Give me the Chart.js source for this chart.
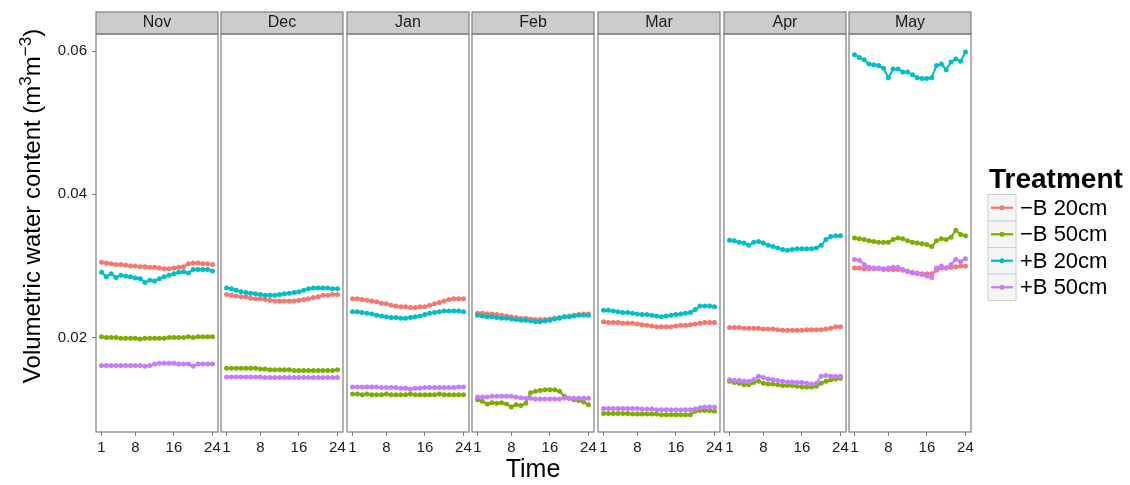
<!DOCTYPE html>
<html>
<head>
<meta charset="utf-8">
<script src="https://cdn.jsdelivr.net/npm/chart.js@4"></script>
<style>
  html, body { margin: 0; padding: 0; background: #fff; }
  #wrap { position: relative; width: 1130px; height: 485px; overflow: hidden; }
  #wrap canvas { position: absolute; top: 0; }
</style>
</head>
<body>
<div id="wrap"></div>
<script>
// facets, x values and ticks
const months = ['Nov', 'Dec', 'Jan', 'Feb', 'Mar', 'Apr', 'May'];
const hours = [1, 2, 3, 4, 5, 6, 7, 8, 9, 10, 11, 12, 13, 14, 15, 16, 17, 18, 19, 20, 21, 22, 23, 24];
const hourTicks = [1, 8, 16, 24];
const vwcTicks = [0.02, 0.04, 0.06];
const treatments = ['\u2212B 20cm', '\u2212B 50cm', '+B 20cm', '+B 50cm'];

// one row per month (Nov..May), 24 hourly readings each
const minusB20 = [
  [0.0305,0.0304,0.0303,0.0302,0.0302,0.0301,0.0300,0.0300,0.0299,0.0299,0.0298,0.0298,0.0297,0.0296,0.0296,0.0297,0.0298,0.0299,0.0303,0.0304,0.0304,0.0303,0.0303,0.0302],
  [0.0260,0.0259,0.0258,0.0257,0.0257,0.0255,0.0254,0.0254,0.0253,0.0252,0.0251,0.0251,0.0251,0.0251,0.0251,0.0252,0.0253,0.0254,0.0256,0.0257,0.0259,0.0259,0.0260,0.0260],
  [0.0254,0.0254,0.0253,0.0252,0.0251,0.0250,0.0248,0.0247,0.0245,0.0244,0.0243,0.0243,0.0242,0.0242,0.0243,0.0243,0.0245,0.0247,0.0249,0.0251,0.0253,0.0254,0.0254,0.0254],
  [0.0234,0.0234,0.0233,0.0233,0.0232,0.0231,0.0230,0.0229,0.0228,0.0227,0.0227,0.0226,0.0225,0.0225,0.0225,0.0226,0.0227,0.0228,0.0229,0.0230,0.0231,0.0232,0.0233,0.0233],
  [0.0222,0.0221,0.0221,0.0221,0.0220,0.0220,0.0220,0.0219,0.0218,0.0217,0.0216,0.0215,0.0215,0.0215,0.0215,0.0216,0.0217,0.0217,0.0218,0.0219,0.0220,0.0221,0.0221,0.0221],
  [0.0214,0.0214,0.0214,0.0213,0.0213,0.0213,0.0213,0.0212,0.0212,0.0212,0.0211,0.0210,0.0210,0.0210,0.0210,0.0210,0.0211,0.0211,0.0211,0.0211,0.0212,0.0213,0.0215,0.0215],
  [0.0297,0.0297,0.0296,0.0296,0.0296,0.0296,0.0295,0.0295,0.0295,0.0295,0.0294,0.0292,0.0291,0.0290,0.0289,0.0289,0.0289,0.0294,0.0297,0.0297,0.0298,0.0299,0.0300,0.0300]
];
const minusB50 = [
  [0.0201,0.0200,0.0200,0.0200,0.0199,0.0199,0.0199,0.0199,0.0198,0.0199,0.0199,0.0199,0.0199,0.0199,0.0200,0.0200,0.0200,0.0200,0.0201,0.0200,0.0201,0.0201,0.0201,0.0201],
  [0.0157,0.0157,0.0157,0.0157,0.0157,0.0157,0.0157,0.0156,0.0156,0.0155,0.0155,0.0155,0.0155,0.0155,0.0154,0.0154,0.0154,0.0154,0.0154,0.0154,0.0154,0.0154,0.0154,0.0155],
  [0.0121,0.0121,0.0120,0.0121,0.0120,0.0120,0.0120,0.0121,0.0120,0.0120,0.0120,0.0120,0.0121,0.0120,0.0120,0.0120,0.0120,0.0120,0.0121,0.0120,0.0120,0.0120,0.0120,0.0120],
  [0.0113,0.0111,0.0107,0.0109,0.0108,0.0109,0.0107,0.0103,0.0106,0.0105,0.0108,0.0123,0.0125,0.0126,0.0127,0.0127,0.0127,0.0125,0.0118,0.0115,0.0113,0.0112,0.0110,0.0106],
  [0.0094,0.0094,0.0094,0.0094,0.0094,0.0094,0.0093,0.0093,0.0093,0.0093,0.0093,0.0093,0.0092,0.0092,0.0092,0.0092,0.0092,0.0092,0.0092,0.0097,0.0098,0.0098,0.0098,0.0097],
  [0.0139,0.0137,0.0136,0.0134,0.0134,0.0137,0.0139,0.0136,0.0135,0.0135,0.0134,0.0133,0.0133,0.0133,0.0132,0.0131,0.0131,0.0131,0.0132,0.0136,0.0139,0.0141,0.0142,0.0143],
  [0.0339,0.0338,0.0337,0.0335,0.0334,0.0333,0.0333,0.0333,0.0337,0.0339,0.0338,0.0335,0.0333,0.0332,0.0331,0.0330,0.0327,0.0335,0.0338,0.0337,0.0340,0.0350,0.0344,0.0342]
];
const plusB20 = [
  [0.0291,0.0285,0.0289,0.0284,0.0287,0.0286,0.0285,0.0283,0.0282,0.0277,0.0280,0.0279,0.0282,0.0285,0.0287,0.0289,0.0291,0.0292,0.0290,0.0295,0.0295,0.0295,0.0295,0.0293],
  [0.0269,0.0268,0.0266,0.0264,0.0263,0.0262,0.0261,0.0260,0.0259,0.0259,0.0259,0.0260,0.0261,0.0262,0.0263,0.0264,0.0266,0.0268,0.0269,0.0269,0.0269,0.0269,0.0268,0.0268],
  [0.0236,0.0236,0.0235,0.0234,0.0233,0.0231,0.0230,0.0229,0.0228,0.0228,0.0227,0.0227,0.0228,0.0229,0.0230,0.0232,0.0234,0.0235,0.0236,0.0237,0.0237,0.0237,0.0237,0.0236],
  [0.0231,0.0230,0.0229,0.0229,0.0228,0.0227,0.0227,0.0226,0.0225,0.0224,0.0224,0.0223,0.0222,0.0222,0.0223,0.0224,0.0226,0.0227,0.0229,0.0229,0.0230,0.0231,0.0231,0.0231],
  [0.0238,0.0238,0.0237,0.0236,0.0235,0.0235,0.0234,0.0233,0.0232,0.0232,0.0231,0.0230,0.0229,0.0230,0.0231,0.0232,0.0233,0.0234,0.0235,0.0239,0.0244,0.0244,0.0244,0.0243],
  [0.0336,0.0335,0.0333,0.0332,0.0329,0.0333,0.0334,0.0332,0.0329,0.0327,0.0325,0.0323,0.0322,0.0323,0.0324,0.0324,0.0324,0.0324,0.0325,0.0329,0.0337,0.0341,0.0342,0.0342],
  [0.0595,0.0591,0.0588,0.0582,0.0581,0.0580,0.0576,0.0563,0.0575,0.0575,0.0571,0.0571,0.0567,0.0563,0.0562,0.0562,0.0563,0.0580,0.0582,0.0574,0.0585,0.0589,0.0586,0.0599]
];
const plusB50 = [
  [0.0161,0.0161,0.0161,0.0161,0.0161,0.0161,0.0161,0.0161,0.0161,0.0160,0.0161,0.0163,0.0164,0.0164,0.0164,0.0164,0.0163,0.0163,0.0163,0.0160,0.0163,0.0163,0.0163,0.0163],
  [0.0145,0.0145,0.0145,0.0145,0.0145,0.0145,0.0145,0.0145,0.0144,0.0144,0.0144,0.0144,0.0144,0.0144,0.0144,0.0144,0.0144,0.0144,0.0144,0.0144,0.0144,0.0144,0.0144,0.0144],
  [0.0131,0.0131,0.0131,0.0131,0.0131,0.0131,0.0130,0.0130,0.0130,0.0130,0.0129,0.0129,0.0128,0.0129,0.0129,0.0130,0.0130,0.0130,0.0130,0.0130,0.0130,0.0130,0.0131,0.0131],
  [0.0117,0.0117,0.0117,0.0118,0.0118,0.0118,0.0118,0.0118,0.0117,0.0116,0.0115,0.0115,0.0114,0.0114,0.0114,0.0114,0.0114,0.0114,0.0115,0.0115,0.0115,0.0115,0.0115,0.0115],
  [0.0101,0.0101,0.0101,0.0101,0.0101,0.0101,0.0101,0.0101,0.0100,0.0100,0.0100,0.0099,0.0099,0.0099,0.0099,0.0099,0.0099,0.0099,0.0099,0.0100,0.0102,0.0103,0.0103,0.0103],
  [0.0141,0.0140,0.0140,0.0139,0.0139,0.0141,0.0146,0.0144,0.0142,0.0141,0.0140,0.0139,0.0138,0.0138,0.0137,0.0137,0.0136,0.0135,0.0136,0.0146,0.0147,0.0146,0.0146,0.0146],
  [0.0309,0.0308,0.0302,0.0298,0.0297,0.0297,0.0296,0.0297,0.0298,0.0298,0.0295,0.0293,0.0290,0.0289,0.0288,0.0286,0.0284,0.0297,0.0300,0.0297,0.0302,0.0309,0.0306,0.0310]
];

const series = [minusB20, minusB50, plusB20, plusB50];
const colours = ['#F8766D', '#7CAE00', '#00BFC4', '#C77CFF'];

const FONT = '"Liberation Sans", Arial, Helvetica, sans-serif';
Chart.defaults.font.family = FONT;
const PANEL_W = 122;
const Y_MIN = 0.0068, Y_MAX = 0.0624;

// grey strip behind the month title + panel border (theme_bw look)
const frame = {
  id: 'frame',
  beforeDraw(chart) {
    const {ctx, chartArea: a} = chart;
    ctx.save();
    ctx.fillStyle = '#cccccc';
    ctx.fillRect(a.left, 12, a.right - a.left, a.top - 12);
    ctx.strokeStyle = '#7f7f7f';
    ctx.lineWidth = 1.2;
    ctx.strokeRect(a.left, 12, a.right - a.left, a.top - 12);
    ctx.restore();
  },
  afterDraw(chart) {
    const {ctx, chartArea: a} = chart;
    ctx.save();
    ctx.strokeStyle = '#7f7f7f';
    ctx.lineWidth = 1.2;
    ctx.strokeRect(a.left, a.top, a.right - a.left, a.bottom - a.top);
    ctx.restore();
  }
};

// rotated y title with superscripts
const yTitle = {
  id: 'yTitle',
  afterDraw(chart) {
    const ctx = chart.ctx;
    const parts = [
      {t: 'Volumetric water content (m', sup: false},
      {t: '3', sup: true},
      {t: 'm', sup: false},
      {t: '\u22123', sup: true},
      {t: ')', sup: false}
    ];
    ctx.save();
    ctx.fillStyle = '#000';
    ctx.textBaseline = 'alphabetic';
    let total = 0;
    parts.forEach(p => {
      ctx.font = (p.sup ? 17 : 24) + 'px ' + FONT;
      p.w = ctx.measureText(p.t).width;
      total += p.w;
    });
    ctx.translate(39.5, 206);
    ctx.rotate(-Math.PI / 2);
    let x = -total / 2;
    parts.forEach(p => {
      ctx.font = (p.sup ? 17 : 24) + 'px ' + FONT;
      ctx.fillText(p.t, x, p.sup ? -9 : 0);
      x += p.w;
    });
    ctx.restore();
  }
};

// ggplot-style legend to the right of the last panel
const sideLegend = {
  id: 'sideLegend',
  afterDraw(chart) {
    const ctx = chart.ctx;
    const x0 = chart.chartArea.right + 17;
    ctx.save();
    ctx.fillStyle = '#000';
    ctx.font = 'bold 28px ' + FONT;
    ctx.textBaseline = 'alphabetic';
    ctx.fillText('Treatment', x0 + 1, 188);
    chart.data.datasets.forEach((ds, k) => {
      const top = 194.5 + k * 26.5;
      const mid = top + 13.25;
      ctx.fillStyle = '#f5f5f5';
      ctx.fillRect(x0, top, 28, 26.5);
      ctx.strokeStyle = '#d0d0d0';
      ctx.lineWidth = 1;
      ctx.strokeRect(x0, top, 28, 26.5);
      ctx.strokeStyle = ds.borderColor;
      ctx.lineWidth = 2.2;
      ctx.beginPath();
      ctx.moveTo(x0 + 3, mid);
      ctx.lineTo(x0 + 25, mid);
      ctx.stroke();
      ctx.fillStyle = ds.borderColor;
      ctx.beginPath();
      ctx.arc(x0 + 14, mid, 2.5, 0, Math.PI * 2);
      ctx.fill();
      ctx.fillStyle = '#000';
      ctx.font = '22px ' + FONT;
      ctx.textBaseline = 'middle';
      ctx.fillText(ds.label, x0 + 32, mid + 1);
    });
    ctx.restore();
  }
};

const wrap = document.getElementById('wrap');

months.forEach((m, i) => {
  const left = Math.round(95.7 + i * 125.6);
  const first = i === 0;
  const last = i === months.length - 1;
  const cLeft = first ? 0 : left - 12;
  const cRight = last ? 1130 : left + PANEL_W + 12;
  const canvas = document.createElement('canvas');
  canvas.width = cRight - cLeft;
  canvas.height = 485;
  canvas.style.left = cLeft + 'px';
  wrap.appendChild(canvas);

  const plugins = [frame];
  if (first) plugins.push(yTitle);
  if (last) plugins.push(sideLegend);

  new Chart(canvas, {
    type: 'line',
    data: {
      datasets: series.map((s, k) => ({
        label: treatments[k],
        data: hours.map((h, j) => ({x: h, y: s[i][j]})),
        borderColor: colours[k],
        backgroundColor: colours[k],
        pointBackgroundColor: colours[k],
        pointBorderWidth: 0,
        pointRadius: 2.5,
        borderWidth: 2.1,
        tension: 0,
        order: 3 - k
      }))
    },
    options: {
      responsive: false,
      animation: false,
      layout: {
        padding: {
          left: first ? 0 : left - cLeft,
          right: cRight - left - PANEL_W,
          top: 12,
          bottom: 0
        }
      },
      plugins: {
        legend: {display: false},
        tooltip: {enabled: false},
        title: {
          display: true,
          text: m,
          fullSize: false,
          color: '#1a1a1a',
          font: {size: 16, weight: 'normal', lineHeight: 1.125},
          padding: {top: 2, bottom: 2}
        }
      },
      scales: {
        x: {
          type: 'linear',
          min: -0.15,
          max: 25.15,
          afterBuildTicks: s => { s.ticks = hourTicks.map(v => ({value: v})); },
          afterFit: s => { s.height = 53; },
          border: {display: false},
          grid: {drawOnChartArea: false, drawTicks: true, tickLength: 4, color: '#7f7f7f'},
          ticks: {autoSkip: false, maxRotation: 0, padding: 3, color: '#1a1a1a', font: {size: 15}},
          title: {
            display: i === 3,
            text: 'Time',
            color: '#000',
            font: {size: 25},
            padding: {top: 0, bottom: 0}
          }
        },
        y: {
          type: 'linear',
          display: first,
          min: Y_MIN,
          max: Y_MAX,
          afterBuildTicks: s => { s.ticks = vwcTicks.map(v => ({value: v})); },
          afterFit: s => { s.width = first ? left : 0; },
          border: {display: false},
          grid: {drawOnChartArea: false, drawTicks: true, tickLength: 4, color: '#7f7f7f'},
          ticks: {padding: 5, color: '#1a1a1a', font: {size: 15}, callback: v => v.toFixed(2)}
        }
      }
    },
    plugins: plugins
  });
});
</script>
</body>
</html>
